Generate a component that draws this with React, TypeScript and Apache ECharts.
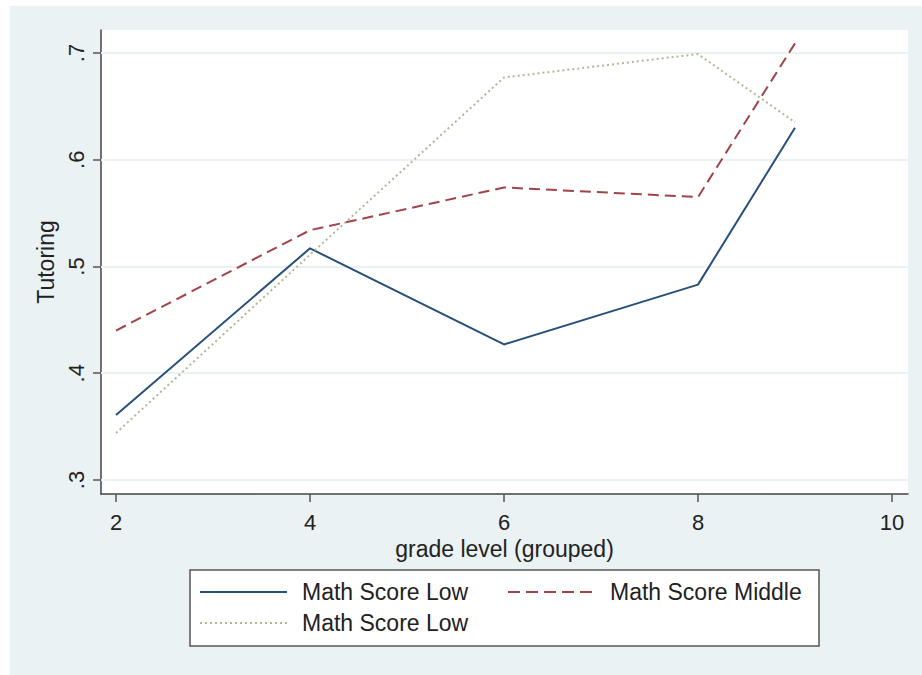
import React, { useEffect, useRef } from "react";
import * as echarts from "echarts";

// ---- data ----
const grades = [2, 4, 6, 8, 9];
const mathLow = [0.361, 0.517, 0.427, 0.483, 0.630];
const mathMiddle = [0.440, 0.534, 0.574, 0.565, 0.709];
const mathLow2 = [0.344, 0.511, 0.677, 0.699, 0.635];
const xTicks = [2, 4, 6, 8, 10];
const yTicks = [0.3, 0.4, 0.5, 0.6, 0.7];
const seriesNames = ["Math Score Low", "Math Score Middle", "Math Score Low"];
const xTitle = "grade level (grouped)";
const yTitle = "Tutoring";

const COLORS = ["#26507A", "#A0444A", "#B0B892"];
const DASHES: any[] = ["solid", [11, 6], [2, 3]];
const FONT = '"Liberation Sans", Arial, sans-serif';
const BG = "#EAF2F3";

export default function App() {
  const ref = useRef<HTMLDivElement>(null);
  useEffect(() => {
    if (!ref.current) return;
    const chart = echarts.init(ref.current, undefined, { renderer: "svg" });
    const seriesData = [mathLow, mathMiddle, mathLow2];
    const fmt = (v: number) => v.toFixed(1).replace(/^0/, "");
    const option: any = {
      animation: false,
      backgroundColor: BG,
      textStyle: { fontFamily: FONT },
      grid: {
        left: 101,
        top: 30,
        right: 14,
        bottom: 181,
        show: true,
        backgroundColor: "#fff",
        borderWidth: 0,
      },
      xAxis: {
        type: "value",
        min: 1.845,
        max: 10.165,
        axisLine: { show: true, onZero: false, lineStyle: { color: "#444", width: 1.5 } },
        axisTick: { show: true, customValues: xTicks, length: 8, lineStyle: { color: "#555", width: 1.5 } },
        axisLabel: { customValues: xTicks, margin: 17, fontSize: 22, color: "#222", fontFamily: FONT },
        splitLine: { show: false },
        name: xTitle,
        nameLocation: "middle",
        nameGap: 39,
        nameTextStyle: { fontSize: 23, color: "#222", fontFamily: FONT },
      },
      yAxis: {
        type: "value",
        min: 0.2869,
        max: 0.7215,
        axisLine: { show: true, onZero: false, lineStyle: { color: "#444", width: 1.5 } },
        axisTick: { show: true, customValues: yTicks, length: 8, lineStyle: { color: "#555", width: 1.5 } },
        axisLabel: {
          customValues: yTicks,
          rotate: 90,
          margin: 14,
          fontSize: 22,
          color: "#222",
          fontFamily: FONT,
          formatter: (v: number) => fmt(v),
        },
        splitLine: { show: false },
        name: yTitle,
        nameLocation: "middle",
        nameGap: 35,
        nameRotate: 90,
        nameTextStyle: { fontSize: 23, color: "#222", fontFamily: FONT },
      },
      graphic: [
        { type: "rect", shape: { x: 0, y: 0, width: 10, height: 675 }, style: { fill: "#fff" } },
        { type: "rect", shape: { x: 0, y: 0, width: 922, height: 6 }, style: { fill: "#fff" } },
        {
          type: "rect",
          shape: { x: 190, y: 570, width: 629, height: 76 },
          style: { fill: "#fff", stroke: "#555", lineWidth: 1.5 },
        },
        { type: "line", shape: { x1: 200, y1: 592, x2: 287, y2: 592 }, style: { stroke: COLORS[0], lineWidth: 2 } },
        {
          type: "text",
          x: 302,
          y: 592,
          style: { text: seriesNames[0], fontSize: 23, fontFamily: FONT, fill: "#222", verticalAlign: "middle" },
        },
        {
          type: "line",
          shape: { x1: 508, y1: 592, x2: 595, y2: 592 },
          style: { stroke: COLORS[1], lineWidth: 2, lineDash: [12, 6] },
        },
        {
          type: "text",
          x: 610,
          y: 592,
          style: { text: seriesNames[1], fontSize: 23, fontFamily: FONT, fill: "#222", verticalAlign: "middle" },
        },
        {
          type: "line",
          shape: { x1: 200, y1: 623, x2: 287, y2: 623 },
          style: { stroke: COLORS[2], lineWidth: 2, lineDash: [2, 3] },
        },
        {
          type: "text",
          x: 302,
          y: 623,
          style: { text: seriesNames[2], fontSize: 23, fontFamily: FONT, fill: "#222", verticalAlign: "middle" },
        },
      ],
      series: [
        {
          type: "line",
          data: [],
          z: 1,
          silent: true,
          markLine: {
            z: 1,
            silent: true,
            symbol: ["none", "none"],
            label: { show: false },
            lineStyle: { color: BG, width: 2, type: "solid" },
            data: yTicks.map((v) => ({ yAxis: v })),
          },
        },
        ...seriesData.map((vals, i) => ({
          type: "line",
          name: seriesNames[i],
          z: 3,
          symbol: "none",
          data: grades.map((g, j) => [g, vals[j]]),
          lineStyle: { color: COLORS[i], width: 2, type: DASHES[i] },
        })),
      ],
    };
    chart.setOption(option);
    return () => chart.dispose();
  }, []);
  return (
    <div
      ref={ref}
      style={{ position: "fixed", left: 0, top: 0, width: 922, height: 675 }}
    />
  );
}
